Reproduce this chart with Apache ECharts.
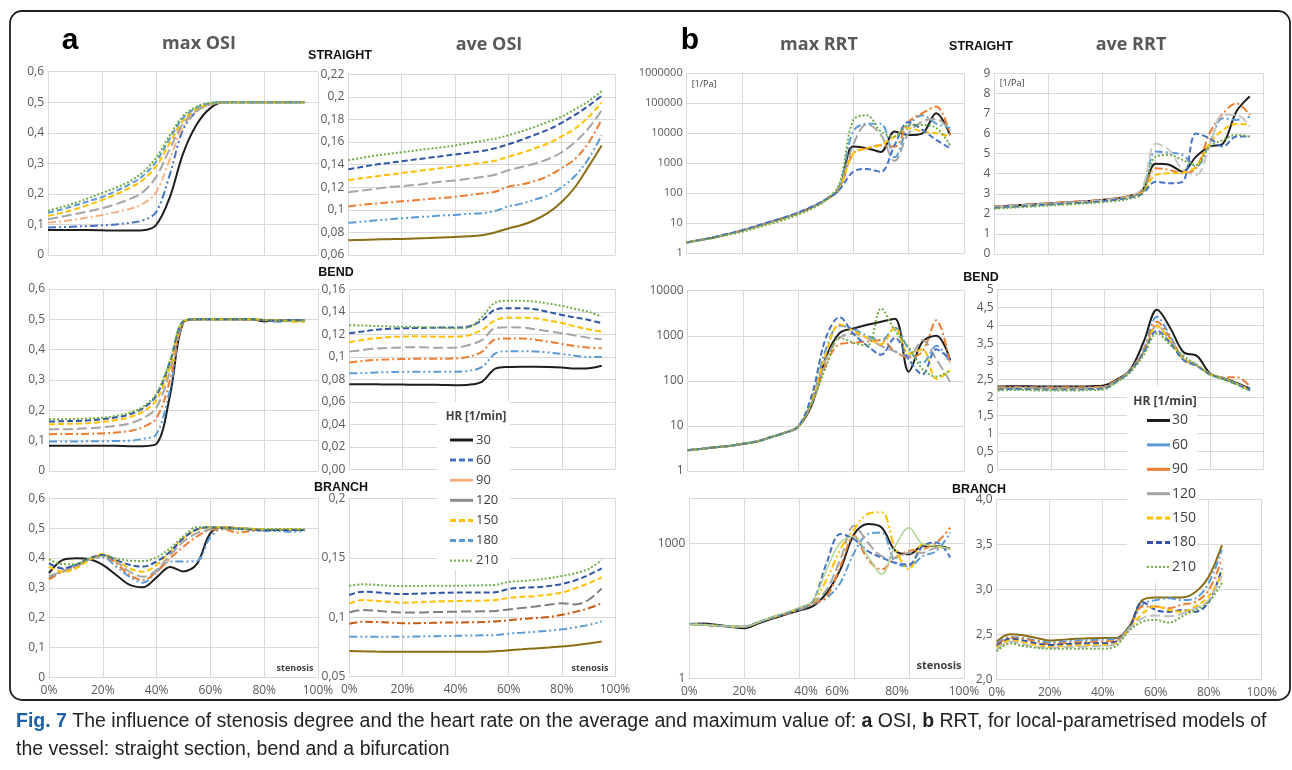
<!DOCTYPE html>
<html>
<head>
<meta charset="utf-8">
<title>Fig. 7 OSI / RRT vs stenosis</title>
<script src="https://cdn.jsdelivr.net/npm/echarts@6/dist/echarts.min.js"></script>
<style>
  html, body { margin: 0; padding: 0; background: #fff; }
  #chart { width: 1292px; height: 770px; }
</style>
</head>
<body>
<div id="chart"></div>
<script>
// stenosis degree [%]
const steno = [0, 5, 10, 15, 20, 25, 30, 35, 40, 45, 50, 55, 60, 65, 70, 75, 80, 85, 90, 95]
const stenoTo85 = [0, 5, 10, 15, 20, 25, 30, 35, 40, 45, 50, 55, 60, 65, 70, 75, 80, 85]
const hrList = ['30', '60', '90', '120', '150', '180', '210']

// ---- a: OSI ----  (one row per heart rate, in hrList order)
const maxOsiStraight = [
  [0.082, 0.082, 0.082, 0.082, 0.081, 0.08, 0.08, 0.081, 0.098, 0.186, 0.331, 0.426, 0.48, 0.5, 0.5, 0.5, 0.5, 0.5, 0.5, 0.5],
  [0.09, 0.091, 0.093, 0.095, 0.097, 0.1, 0.105, 0.113, 0.14, 0.26, 0.41, 0.47, 0.494, 0.5, 0.5, 0.5, 0.5, 0.5, 0.5, 0.5],
  [0.106, 0.11, 0.116, 0.123, 0.131, 0.14, 0.15, 0.167, 0.205, 0.31, 0.42, 0.47, 0.492, 0.5, 0.5, 0.5, 0.5, 0.5, 0.5, 0.5],
  [0.117, 0.125, 0.134, 0.143, 0.153, 0.166, 0.182, 0.205, 0.255, 0.345, 0.43, 0.472, 0.493, 0.5, 0.5, 0.5, 0.5, 0.5, 0.5, 0.5],
  [0.128, 0.138, 0.15, 0.164, 0.18, 0.198, 0.218, 0.245, 0.29, 0.365, 0.44, 0.478, 0.495, 0.5, 0.5, 0.5, 0.5, 0.5, 0.5, 0.5],
  [0.138, 0.149, 0.162, 0.176, 0.19, 0.209, 0.23, 0.258, 0.305, 0.38, 0.448, 0.482, 0.497, 0.5, 0.5, 0.5, 0.5, 0.5, 0.5, 0.5],
  [0.145, 0.157, 0.17, 0.186, 0.203, 0.22, 0.24, 0.27, 0.318, 0.39, 0.455, 0.485, 0.498, 0.5, 0.5, 0.5, 0.5, 0.5, 0.5, 0.5]
]
const aveOsiStraight = [
  [0.073, 0.0733, 0.0737, 0.074, 0.0742, 0.0746, 0.075, 0.0755, 0.076, 0.0765, 0.0775, 0.08, 0.0835, 0.0865, 0.091, 0.0975, 0.107, 0.12, 0.138, 0.157],
  [0.0885, 0.0895, 0.0905, 0.0915, 0.0925, 0.0935, 0.094, 0.095, 0.0955, 0.0965, 0.097, 0.099, 0.103, 0.1055, 0.109, 0.113, 0.12, 0.13, 0.145, 0.166],
  [0.103, 0.1045, 0.1055, 0.1065, 0.1075, 0.1085, 0.1095, 0.1105, 0.1115, 0.113, 0.1145, 0.116, 0.1205, 0.1225, 0.1255, 0.13, 0.137, 0.145, 0.159, 0.18],
  [0.1155, 0.117, 0.1185, 0.12, 0.121, 0.122, 0.1235, 0.125, 0.126, 0.1275, 0.129, 0.131, 0.135, 0.138, 0.141, 0.145, 0.151, 0.16, 0.172, 0.188],
  [0.1265, 0.128, 0.1295, 0.131, 0.1325, 0.134, 0.1355, 0.137, 0.1385, 0.14, 0.1415, 0.1435, 0.147, 0.1505, 0.1545, 0.159, 0.165, 0.172, 0.182, 0.195],
  [0.136, 0.138, 0.14, 0.1415, 0.143, 0.1445, 0.146, 0.1475, 0.149, 0.1505, 0.152, 0.1545, 0.158, 0.162, 0.1665, 0.171, 0.177, 0.184, 0.192, 0.201],
  [0.144, 0.146, 0.148, 0.1495, 0.151, 0.1525, 0.154, 0.1555, 0.157, 0.159, 0.161, 0.163, 0.166, 0.1695, 0.1735, 0.178, 0.1825, 0.189, 0.196, 0.205]
]
const maxOsiBend = [
  [0.083, 0.083, 0.083, 0.083, 0.083, 0.083, 0.082, 0.082, 0.09, 0.25, 0.49, 0.5, 0.5, 0.5, 0.5, 0.5, 0.493, 0.497, 0.496, 0.496],
  [0.097, 0.097, 0.097, 0.098, 0.098, 0.099, 0.1, 0.106, 0.122, 0.27, 0.49, 0.5, 0.5, 0.5, 0.5, 0.5, 0.497, 0.492, 0.495, 0.497],
  [0.121, 0.122, 0.122, 0.123, 0.124, 0.127, 0.132, 0.145, 0.175, 0.3, 0.49, 0.5, 0.5, 0.5, 0.5, 0.499, 0.497, 0.497, 0.494, 0.495],
  [0.138, 0.138, 0.139, 0.141, 0.144, 0.149, 0.157, 0.174, 0.21, 0.33, 0.492, 0.5, 0.5, 0.5, 0.5, 0.5, 0.498, 0.496, 0.495, 0.494],
  [0.154, 0.155, 0.156, 0.158, 0.162, 0.168, 0.178, 0.196, 0.235, 0.345, 0.493, 0.5, 0.5, 0.5, 0.5, 0.5, 0.498, 0.497, 0.493, 0.492],
  [0.163, 0.164, 0.165, 0.167, 0.171, 0.177, 0.187, 0.207, 0.25, 0.36, 0.494, 0.5, 0.5, 0.5, 0.5, 0.5, 0.498, 0.496, 0.497, 0.497],
  [0.171, 0.171, 0.172, 0.173, 0.176, 0.182, 0.192, 0.212, 0.256, 0.365, 0.495, 0.5, 0.5, 0.5, 0.5, 0.5, 0.498, 0.497, 0.496, 0.495]
]
const aveOsiBend = [
  [0.0757, 0.0756, 0.0755, 0.0754, 0.0753, 0.0752, 0.0751, 0.075, 0.0748, 0.0752, 0.078, 0.0895, 0.091, 0.0912, 0.0912, 0.091, 0.0905, 0.0895, 0.0898, 0.092],
  [0.0853, 0.0856, 0.086, 0.0864, 0.0868, 0.0868, 0.0868, 0.0868, 0.0868, 0.0875, 0.091, 0.103, 0.105, 0.105, 0.1048, 0.1038, 0.1025, 0.101, 0.0998, 0.0998],
  [0.095, 0.0963, 0.0972, 0.0977, 0.098, 0.0982, 0.0983, 0.0983, 0.0985, 0.1, 0.1046, 0.1155, 0.1163, 0.1162, 0.1152, 0.1135, 0.1115, 0.1095, 0.1082, 0.1075],
  [0.1046, 0.106, 0.1073, 0.108, 0.1084, 0.1086, 0.1082, 0.108, 0.1082, 0.1105, 0.115, 0.1255, 0.1262, 0.126, 0.1245, 0.1228, 0.121, 0.119, 0.117, 0.1156],
  [0.113, 0.115, 0.1165, 0.1175, 0.118, 0.1182, 0.118, 0.1178, 0.1178, 0.1192, 0.124, 0.1325, 0.1347, 0.1347, 0.1342, 0.1322, 0.13, 0.127, 0.1245, 0.1224],
  [0.121, 0.1225, 0.124, 0.125, 0.1253, 0.1256, 0.1258, 0.126, 0.126, 0.127, 0.1325, 0.142, 0.1432, 0.1432, 0.1422, 0.1398, 0.1372, 0.135, 0.1328, 0.13],
  [0.128, 0.1278, 0.1274, 0.127, 0.1268, 0.1265, 0.1262, 0.1258, 0.1254, 0.1262, 0.1355, 0.1482, 0.1498, 0.1498, 0.149, 0.1472, 0.1452, 0.1425, 0.14, 0.1357]
]
const maxOsiBranch = [
  [0.349, 0.393, 0.399, 0.396, 0.377, 0.343, 0.31, 0.302, 0.335, 0.37, 0.355, 0.38, 0.483, 0.503, 0.5, 0.497, 0.494, 0.494, 0.494, 0.494],
  [0.332, 0.36, 0.377, 0.396, 0.402, 0.371, 0.337, 0.317, 0.354, 0.388, 0.388, 0.39, 0.47, 0.5, 0.5, 0.495, 0.49, 0.49, 0.488, 0.49],
  [0.328, 0.354, 0.371, 0.399, 0.407, 0.382, 0.343, 0.326, 0.354, 0.399, 0.438, 0.472, 0.494, 0.496, 0.485, 0.49, 0.494, 0.494, 0.494, 0.494],
  [0.34, 0.354, 0.371, 0.396, 0.41, 0.388, 0.354, 0.337, 0.36, 0.41, 0.455, 0.483, 0.496, 0.503, 0.5, 0.498, 0.494, 0.494, 0.494, 0.494],
  [0.371, 0.354, 0.365, 0.393, 0.413, 0.391, 0.365, 0.354, 0.377, 0.421, 0.466, 0.494, 0.503, 0.503, 0.5, 0.498, 0.496, 0.496, 0.496, 0.496],
  [0.382, 0.365, 0.377, 0.399, 0.41, 0.393, 0.377, 0.371, 0.388, 0.421, 0.466, 0.496, 0.503, 0.5, 0.498, 0.495, 0.493, 0.494, 0.494, 0.494],
  [0.396, 0.379, 0.38, 0.399, 0.407, 0.399, 0.391, 0.39, 0.402, 0.432, 0.472, 0.503, 0.503, 0.5, 0.498, 0.496, 0.496, 0.497, 0.497, 0.496]
]
const aveOsiBranch = [
  [0.0716, 0.0713, 0.0711, 0.071, 0.071, 0.071, 0.071, 0.071, 0.071, 0.071, 0.071, 0.0714, 0.0722, 0.073, 0.0738, 0.0745, 0.0753, 0.0765, 0.078, 0.0795],
  [0.0836, 0.0837, 0.0836, 0.0836, 0.0836, 0.0838, 0.084, 0.0842, 0.0844, 0.0846, 0.0848, 0.085, 0.0862, 0.087, 0.0878, 0.0887, 0.0898, 0.0915, 0.0935, 0.0965],
  [0.0945, 0.0962, 0.096, 0.0955, 0.095, 0.095, 0.0952, 0.0955, 0.0955, 0.0957, 0.096, 0.0965, 0.0975, 0.0985, 0.0993, 0.1002, 0.102, 0.1045, 0.1075, 0.1117],
  [0.104, 0.106, 0.1055, 0.1045, 0.104, 0.104, 0.1042, 0.1045, 0.1047, 0.1048, 0.105, 0.1053, 0.1066, 0.1078, 0.109, 0.1105, 0.1117, 0.1108, 0.1145, 0.1243],
  [0.1117, 0.1145, 0.1138, 0.113, 0.1122, 0.1125, 0.113, 0.1134, 0.1136, 0.1138, 0.114, 0.1145, 0.1162, 0.1172, 0.1178, 0.119, 0.1207, 0.1243, 0.1285, 0.1336],
  [0.1187, 0.1215, 0.121, 0.12, 0.1195, 0.1198, 0.1202, 0.1205, 0.1207, 0.1207, 0.1207, 0.121, 0.1238, 0.1248, 0.1252, 0.1262, 0.1279, 0.131, 0.1355, 0.141],
  [0.1265, 0.1277, 0.1272, 0.1265, 0.1263, 0.1263, 0.1264, 0.1265, 0.1265, 0.1266, 0.1268, 0.1272, 0.1297, 0.1305, 0.1313, 0.1328, 0.1347, 0.137, 0.1405, 0.148]
]

// ---- b: RRT [1/Pa] ----
const maxRrtStraight = [
  [2.3, 2.8, 3.4, 4.4, 5.7, 7.8, 10.8, 15, 21.5, 34, 60, 140, 3600, 3200, 2400, 11500, 8700, 10000, 47000, 8700],
  [2.3, 2.8, 3.4, 4.4, 5.8, 8, 11, 15.5, 22, 35, 62, 170, 11500, 21000, 21000, 1600, 17000, 40000, 21000, 15000],
  [2.3, 2.8, 3.4, 4.4, 5.7, 7.8, 10.8, 15, 21.5, 34, 60, 140, 2100, 3200, 4000, 3600, 24000, 47000, 78000, 8700],
  [2.3, 2.8, 3.4, 4.4, 5.7, 7.8, 10.8, 15, 21.5, 34, 60, 150, 4000, 20000, 9000, 1200, 10000, 25000, 30000, 12000],
  [2.3, 2.8, 3.4, 4.3, 5.6, 7.6, 10.5, 14.5, 21, 33, 58, 140, 2100, 3200, 4100, 7800, 15000, 11500, 10000, 7800],
  [2.3, 2.8, 3.5, 4.5, 5.9, 8.1, 11.2, 15.5, 22.5, 35, 60, 130, 520, 650, 520, 4100, 24000, 13000, 6000, 3200],
  [2.3, 2.7, 3.3, 4.1, 5.2, 7, 9.5, 13, 19, 30, 58, 200, 27000, 40000, 11500, 7800, 19000, 19000, 15000, 4000]
]
const aveRrtStraight = [
  [2.36, 2.4, 2.44, 2.48, 2.52, 2.56, 2.6, 2.64, 2.69, 2.76, 2.88, 3.15, 4.5, 4.45, 4.1, 4.85, 5.35, 5.5, 7.1, 7.85],
  [2.34, 2.38, 2.42, 2.46, 2.5, 2.54, 2.58, 2.62, 2.67, 2.74, 2.86, 3.1, 5.1, 5.05, 4.93, 4.35, 5.5, 6.76, 6.68, 6.84],
  [2.36, 2.4, 2.44, 2.48, 2.52, 2.56, 2.6, 2.64, 2.69, 2.76, 2.88, 3.1, 4.27, 4.19, 4.02, 4.27, 6.0, 7.0, 7.5, 6.93],
  [2.34, 2.38, 2.42, 2.46, 2.5, 2.54, 2.58, 2.62, 2.67, 2.74, 2.86, 3.3, 5.5, 5.18, 4.19, 3.94, 5.35, 6.93, 6.93, 6.35],
  [2.3, 2.34, 2.38, 2.42, 2.46, 2.5, 2.54, 2.58, 2.63, 2.7, 2.82, 3.05, 3.94, 4.02, 4.05, 4.35, 5.5, 6.18, 6.48, 6.43],
  [2.3, 2.34, 2.38, 2.42, 2.46, 2.5, 2.54, 2.58, 2.63, 2.7, 2.8, 3.0, 3.6, 3.52, 3.6, 6.0, 5.76, 5.35, 5.85, 5.85],
  [2.25, 2.29, 2.33, 2.37, 2.41, 2.45, 2.49, 2.53, 2.58, 2.64, 2.75, 3.0, 4.85, 4.93, 4.68, 4.43, 5.35, 5.68, 5.93, 5.85]
]
const maxRrtBend = [
  [2.9, 3.1, 3.35, 3.6, 4, 4.5, 5.6, 7, 9.6, 30, 330, 1150, 1450, 1750, 2050, 2400, 160, 740, 1000, 290],
  [2.9, 3.1, 3.35, 3.6, 4, 4.5, 5.6, 7, 9.6, 38, 500, 1700, 1400, 1000, 800, 1500, 500, 250, 600, 250],
  [2.9, 3.1, 3.35, 3.6, 4, 4.5, 5.6, 7, 9.6, 32, 230, 650, 700, 750, 800, 450, 330, 450, 2200, 230],
  [2.9, 3.1, 3.35, 3.6, 4, 4.5, 5.6, 7, 9.6, 34, 300, 900, 1100, 900, 600, 450, 350, 800, 300, 96],
  [2.9, 3.1, 3.35, 3.6, 4, 4.5, 5.6, 7, 9.6, 40, 400, 1800, 1300, 900, 650, 1500, 400, 500, 110, 170],
  [2.9, 3.1, 3.35, 3.6, 4, 4.5, 5.6, 7, 9.6, 50, 900, 2600, 1100, 600, 380, 900, 300, 140, 500, 300],
  [2.9, 3.1, 3.35, 3.6, 4, 4.5, 5.6, 7, 9.6, 33, 200, 900, 700, 600, 4000, 1300, 550, 180, 125, 170]
]
const aveRrtBend = [
  [2.3, 2.31, 2.31, 2.3, 2.3, 2.3, 2.3, 2.31, 2.33, 2.5, 2.78, 3.55, 4.43, 3.92, 3.25, 3.15, 2.66, 2.53, 2.4, 2.24],
  [2.27, 2.28, 2.28, 2.27, 2.27, 2.27, 2.27, 2.28, 2.3, 2.48, 2.76, 3.35, 4.24, 3.69, 3.08, 2.9, 2.65, 2.53, 2.38, 2.22],
  [2.27, 2.28, 2.28, 2.27, 2.27, 2.27, 2.27, 2.28, 2.3, 2.48, 2.76, 3.3, 4.1, 3.64, 3.06, 2.88, 2.64, 2.55, 2.56, 2.3],
  [2.25, 2.26, 2.26, 2.25, 2.25, 2.25, 2.25, 2.26, 2.28, 2.47, 2.75, 3.28, 4.0, 3.55, 3.05, 2.88, 2.64, 2.52, 2.38, 2.2],
  [2.23, 2.24, 2.24, 2.23, 2.23, 2.23, 2.23, 2.24, 2.26, 2.46, 2.74, 3.26, 3.98, 3.55, 3.05, 2.88, 2.64, 2.52, 2.37, 2.2],
  [2.22, 2.23, 2.23, 2.22, 2.22, 2.22, 2.22, 2.23, 2.25, 2.45, 2.73, 3.25, 3.85, 3.5, 3.03, 2.87, 2.63, 2.51, 2.36, 2.2],
  [2.19, 2.2, 2.2, 2.19, 2.19, 2.19, 2.19, 2.2, 2.22, 2.42, 2.7, 3.18, 3.78, 3.45, 3.15, 2.88, 2.63, 2.5, 2.35, 2.18]
]
const maxRrtBranch = [
  [16, 16.5, 15.5, 14, 13, 16.5, 21, 26, 32, 40, 79, 263, 1590, 2670, 2240, 680, 570, 870, 870, 760],
  [16, 15.5, 14.8, 14.2, 14, 17.5, 22, 27, 33, 45, 61, 133, 620, 1590, 1730, 370, 310, 520, 680, 1730],
  [16, 15.5, 14.8, 14.2, 14, 17.5, 22, 27, 34, 46, 66, 310, 1450, 440, 263, 480, 680, 740, 1040, 2240],
  [16, 15.5, 14.8, 14.2, 14, 17.5, 22, 28, 35, 48, 94, 440, 2450, 1040, 520, 480, 620, 620, 800, 760],
  [16, 15.5, 14.8, 14.2, 14, 17.5, 22.5, 28, 36, 50, 157, 740, 2050, 4500, 4900, 740, 263, 950, 870, 740],
  [16, 15.5, 14.8, 14.2, 14, 17.5, 22.5, 28, 36, 52, 370, 1600, 1230, 670, 480, 370, 340, 870, 1040, 480],
  [16, 15.5, 14.8, 14.2, 14, 17.5, 23, 29, 37, 53, 263, 1050, 1400, 520, 205, 870, 2240, 950, 870, 740]
]
const aveRrtBranch = [
  [2.42, 2.5, 2.49, 2.46, 2.43, 2.44, 2.45, 2.455, 2.46, 2.46, 2.59, 2.88, 2.91, 2.91, 2.91, 2.97, 3.14, 3.49],
  [2.4, 2.47, 2.46, 2.43, 2.41, 2.42, 2.43, 2.435, 2.44, 2.45, 2.58, 2.83, 2.88, 2.9, 2.88, 2.9, 3.07, 3.44],
  [2.38, 2.46, 2.45, 2.42, 2.39, 2.4, 2.41, 2.415, 2.42, 2.43, 2.57, 2.81, 2.81, 2.79, 2.83, 2.86, 2.99, 3.34],
  [2.37, 2.45, 2.43, 2.4, 2.38, 2.39, 2.395, 2.4, 2.4, 2.42, 2.57, 2.86, 2.77, 2.75, 2.77, 2.75, 2.86, 3.23],
  [2.35, 2.43, 2.41, 2.38, 2.36, 2.37, 2.375, 2.38, 2.38, 2.4, 2.56, 2.73, 2.81, 2.77, 2.75, 2.81, 2.92, 3.18],
  [2.33, 2.42, 2.39, 2.36, 2.35, 2.355, 2.36, 2.365, 2.37, 2.39, 2.56, 2.68, 2.71, 2.7, 2.73, 2.79, 2.88, 3.15],
  [2.31, 2.4, 2.37, 2.35, 2.34, 2.34, 2.34, 2.34, 2.34, 2.37, 2.54, 2.64, 2.66, 2.63, 2.7, 2.77, 2.86, 3.07]
]

// line looks (Excel-ish)
const DASH = {
  solid: 'solid',
  dash: [6, 3],
  long: [10, 4],
  dashDot: [8, 3, 2, 3],
  dashDotDot: [8, 3, 2, 3, 2, 3],
  dot: [2, 2]
}
const ls = (color, type, width = 2) => ({ color, type: DASH[type], width, cap: 'butt' })

const stOsiStraightMax = [ls('#1e1e1e', 'solid'), ls('#4472c4', 'dashDotDot'), ls('#f4b183', 'dashDot'), ls('#a5a5a5', 'long'), ls('#ffc000', 'dash'), ls('#5b9bd5', 'dash'), ls('#70ad47', 'dot')]
const stOsiAve = [ls('#8c6d14', 'solid'), ls('#5b9bd5', 'dashDotDot'), ls('#ed7d31', 'dashDot'), ls('#a5a5a5', 'long'), ls('#ffc000', 'dash'), ls('#2f55a4', 'dash'), ls('#70ad47', 'dot')]
const stOsi = [ls('#1e1e1e', 'solid'), ls('#5b9bd5', 'dashDotDot'), ls('#ed7d31', 'dashDot'), ls('#a5a5a5', 'long'), ls('#ffc000', 'dash'), ls('#2f55a4', 'dash'), ls('#70ad47', 'dot')]
const stOsiBranchAve = [ls('#8c6d14', 'solid'), ls('#5b9bd5', 'dashDotDot'), ls('#c55a11', 'dashDot'), ls('#7f7f7f', 'long'), ls('#ffc000', 'dash'), ls('#2f55a4', 'dash'), ls('#70ad47', 'dot')]
const stRrt = [ls('#1e1e1e', 'solid'), ls('#5b9bd5', 'dashDot'), ls('#ed7d31', 'dashDot'), ls('#a5a5a5', 'long'), ls('#ffc000', 'dash'), ls('#4472c4', 'dash'), ls('#70ad47', 'dot')]
const stRrtStraightAve = [ls('#1e1e1e', 'solid'), ls('#5b9bd5', 'dashDot'), ls('#ed7d31', 'dashDot'), ls('#c9c9c9', 'long'), ls('#ffc000', 'dash'), ls('#4472c4', 'dash'), ls('#70ad47', 'dot')]
const stRrtBranchMax = [ls('#1e1e1e', 'solid'), ls('#5b9bd5', 'dashDot'), ls('#ed7d31', 'dashDot'), ls('#a5a5a5', 'long'), ls('#ffc000', 'dashDotDot'), ls('#4472c4', 'dash'), ls('#a9d18e', 'solid', 1.3)]
const stRrtBranchAve = [ls('#8c6d14', 'solid'), ls('#5b9bd5', 'dashDot'), ls('#ed7d31', 'dashDot'), ls('#2f55a4', 'dash'), ls('#ffc000', 'dash'), ls('#c0c0c0', 'long'), ls('#70ad47', 'dot')]

const legendA = [ls('#1e1e1e', 'solid', 3), ls('#4472c4', 'dash', 3), ls('#f4b183', 'solid', 3), ls('#8c8c8c', 'solid', 3), ls('#ffc000', 'dash', 3), ls('#5b9bd5', 'dash', 3), ls('#70ad47', 'dot', 2)]
const legendB = [ls('#1e1e1e', 'solid', 3), ls('#5b9bd5', 'solid', 3), ls('#ed7d31', 'solid', 3), ls('#a5a5a5', 'solid', 3), ls('#ffc000', 'dash', 3), ls('#2f55a4', 'dash', 3), ls('#70ad47', 'dot', 2)]

// tick label formats
const comma = v => String(+v.toFixed(3)).replace('.', ',')
const comma00 = v => (v === 0 ? '0,00' : comma(v))
const comma1 = v => v.toFixed(1).replace('.', ',')
const plain = v => String(Math.round(v))
const only1and1000 = v => (Math.abs(v - 1) < 1e-6 || Math.abs(v - 1000) < 1e-3 ? String(Math.round(v)) : '')

const TICK_FONT = { color: '#595959', fontSize: 12, fontFamily: 'Open Sans' }

const panels = [
  { box: [48, 71.7, 270, 183.3], x: steno, y: maxOsiStraight, st: stOsiStraightMax, axis: { type: 'value', min: 0, max: 0.6, interval: 0.1 }, fmt: comma },
  { box: [348.3, 74.3, 266.7, 180.7], x: steno, y: aveOsiStraight, st: stOsiAve, axis: { type: 'value', min: 0.06, max: 0.22, interval: 0.02 }, fmt: comma },
  { box: [49, 289, 269, 182], x: steno, y: maxOsiBend, st: stOsi, axis: { type: 'value', min: 0, max: 0.6, interval: 0.1 }, fmt: comma },
  { box: [349.3, 289.3, 265.7, 180], x: steno, y: aveOsiBend, st: stOsi, axis: { type: 'value', min: 0, max: 0.16, interval: 0.02 }, fmt: comma00 },
  { box: [49, 498.3, 269, 179], x: steno, y: maxOsiBranch, st: stOsi, axis: { type: 'value', min: 0, max: 0.6, interval: 0.1 }, fmt: comma, xLabels: true },
  { box: [349.3, 498.3, 265.7, 178.4], x: steno, y: aveOsiBranch, st: stOsiBranchAve, axis: { type: 'value', min: 0.05, max: 0.2, interval: 0.05 }, fmt: comma, xLabels: true },
  { box: [686.7, 73.3, 277.3, 180], x: steno, y: maxRrtStraight, st: stRrt, axis: { type: 'log', logBase: 10, min: 1, max: 1000000 }, fmt: plain, tickSize: 11 },
  { box: [994.3, 73.3, 269, 180.7], x: steno, y: aveRrtStraight, st: stRrtStraightAve, axis: { type: 'value', min: 0, max: 9, interval: 1 }, fmt: plain },
  { box: [687.7, 290.7, 276.3, 180.3], x: steno, y: maxRrtBend, st: stRrt, axis: { type: 'log', logBase: 10, min: 1, max: 10000 }, fmt: plain },
  { box: [997.7, 289.3, 265.6, 180], x: steno, y: aveRrtBend, st: stRrt, axis: { type: 'value', min: 0, max: 5, interval: 0.5 }, fmt: comma },
  { box: [689.3, 498.3, 274.7, 180], x: steno, y: maxRrtBranch, st: stRrtBranchMax, axis: { type: 'log', logBase: 1000, min: 1, max: 10000 }, fmt: only1and1000, xLabels: true, shiftX: true },
  { box: [996.7, 499.3, 265, 180], x: stenoTo85, y: aveRrtBranch, st: stRrtBranchAve, axis: { type: 'value', min: 2, max: 4, interval: 0.5 }, fmt: comma1, xLabels: true }
]

const GRID_LINE = { color: '#d9d9d9', width: 1 }
const grid = []
const xAxis = []
const yAxis = []
const series = []

panels.forEach((p, i) => {
  grid.push({ left: p.box[0], top: p.box[1], width: p.box[2], height: p.box[3] })
  const xLabel = {
    show: !!p.xLabels,
    margin: 7,
    ...TICK_FONT,
    formatter: v => v + '%'
  }
  if (p.shiftX) {
    // in the original the labels of this panel sit a little off their ticks
    xLabel.formatter = v => (v === 40 ? '{r|40%}' : v === 60 ? '{l|60%}' : v === 80 ? '{m|80%}' : v + '%')
    xLabel.rich = {
      r: { ...TICK_FONT, padding: [0, 0, 0, 14] },
      l: { ...TICK_FONT, padding: [0, 34, 0, 0] },
      m: { ...TICK_FONT, padding: [0, 24, 0, 0] }
    }
  }
  xAxis.push({
    type: 'value', gridIndex: i, min: 0, max: 100, interval: 20,
    axisLine: { show: true, lineStyle: GRID_LINE },
    axisTick: { show: false },
    splitLine: { show: true, lineStyle: GRID_LINE },
    axisLabel: xLabel
  })
  yAxis.push({
    ...p.axis, gridIndex: i,
    axisLine: { show: true, lineStyle: GRID_LINE },
    axisTick: { show: false },
    splitLine: { show: true, lineStyle: GRID_LINE },
    minorTick: { show: false },
    axisLabel: { ...TICK_FONT, fontSize: p.tickSize || 12, margin: 4, formatter: p.fmt }
  })
  p.y.forEach((vals, k) => {
    series.push({
      type: 'line', name: hrList[k], xAxisIndex: i, yAxisIndex: i,
      data: vals.map((v, j) => [p.x[j], v]),
      symbol: 'none', showSymbol: false, smooth: 0.35,
      lineStyle: p.st[k], silent: true, z: 3 + k
    })
  })
})

// texts
const txt = (x, y, text, size, weight, color, family, align) => ({
  type: 'text', x, y, silent: true, z: 60,
  style: { text, fontSize: size, fontWeight: weight, fill: color, fontFamily: family, align: align || 'center', verticalAlign: 'middle' }
})
const ARIAL = 'Liberation Sans'
const OPEN = 'Open Sans'

const labels = [
  txt(70, 41, 'a', 30, 'bold', '#000', ARIAL),
  txt(199, 44, 'max OSI', 18, 'bold', '#595959', OPEN),
  txt(489, 45, 'ave OSI', 18, 'bold', '#595959', OPEN),
  txt(340, 56, 'STRAIGHT', 12.5, 'bold', '#111', ARIAL),
  txt(690, 41, 'b', 30, 'bold', '#000', ARIAL),
  txt(819, 45, 'max RRT', 18, 'bold', '#595959', OPEN),
  txt(981, 47, 'STRAIGHT', 12.5, 'bold', '#111', ARIAL),
  txt(1131, 45, 'ave RRT', 18, 'bold', '#595959', OPEN),
  txt(336, 273, 'BEND', 12.5, 'bold', '#111', ARIAL),
  txt(981, 278, 'BEND', 12.5, 'bold', '#111', ARIAL),
  txt(341, 488, 'BRANCH', 12.5, 'bold', '#111', ARIAL),
  txt(979, 490, 'BRANCH', 12.5, 'bold', '#111', ARIAL),
  txt(704, 84, '[1/Pa]', 9, 'normal', '#404040', OPEN),
  txt(1012, 83, '[1/Pa]', 9, 'normal', '#404040', OPEN),
  txt(295, 668, 'stenosis', 9, 'bold', '#404040', OPEN),
  txt(590, 668, 'stenosis', 9, 'bold', '#404040', OPEN),
  txt(939, 666, 'stenosis', 11, 'bold', '#404040', OPEN)
]

function legendBox (c, styles) {
  const els = [
    { type: 'rect', silent: true, z: 50, shape: { x: c.x, y: c.y, width: c.w, height: c.h }, style: { fill: '#fff' } },
    txt(c.titleX, c.titleY, 'HR [1/min]', c.titleSize, 'bold', '#404040', OPEN)
  ]
  hrList.forEach((hr, k) => {
    const yy = c.itemY + c.gap * k
    const s = styles[k]
    els.push({
      type: 'line', silent: true, z: 55,
      shape: { x1: c.iconX, y1: yy, x2: c.iconX + c.iconW, y2: yy },
      style: { stroke: s.color, lineWidth: s.width, lineDash: s.type === 'solid' ? null : s.type }
    })
    els.push(txt(c.textX, yy, hr, c.size, 'normal', '#404040', OPEN, 'left'))
  })
  return els
}

const legA = legendBox({ x: 437, y: 402, w: 73, h: 168, titleX: 476, titleY: 417, titleSize: 11.5, itemY: 440, gap: 20.1, iconX: 450, iconW: 23, textX: 476, size: 13 }, legendA)
const legB = legendBox({ x: 1127, y: 386, w: 70, h: 197, titleX: 1165, titleY: 402, titleSize: 12, itemY: 420.5, gap: 24.4, iconX: 1147, iconW: 23, textX: 1172, size: 14 }, legendB)

const frame = {
  type: 'rect', silent: true, z: 40,
  shape: { x: 10, y: 11, width: 1280, height: 689, r: 12 },
  style: { fill: 'none', stroke: '#231f20', lineWidth: 1.8 }
}

const caption = {
  type: 'text', x: 16, y: 708, silent: true, z: 60,
  style: {
    text: '{f|Fig. 7} The influence of stenosis degree and the heart rate on the average and maximum value of: {b|a} OSI, {b|b} RRT, for local-parametrised models of\nthe vessel: straight section, bend and a bifurcation',
    fontSize: 19.5, fontFamily: ARIAL, fill: '#231f20', lineHeight: 28, align: 'left', verticalAlign: 'top',
    rich: {
      f: { fontSize: 19.5, fontFamily: ARIAL, fontWeight: 'bold', fill: '#1b5fa8', lineHeight: 28 },
      b: { fontSize: 19.5, fontFamily: ARIAL, fontWeight: 'bold', fill: '#231f20', lineHeight: 28 }
    }
  }
}

const chart = echarts.init(document.getElementById('chart'))
chart.setOption({
  animation: false,
  backgroundColor: '#fff',
  grid,
  xAxis,
  yAxis,
  series,
  graphic: [frame, ...labels, ...legA, ...legB, caption]
})
</script>
</body>
</html>
